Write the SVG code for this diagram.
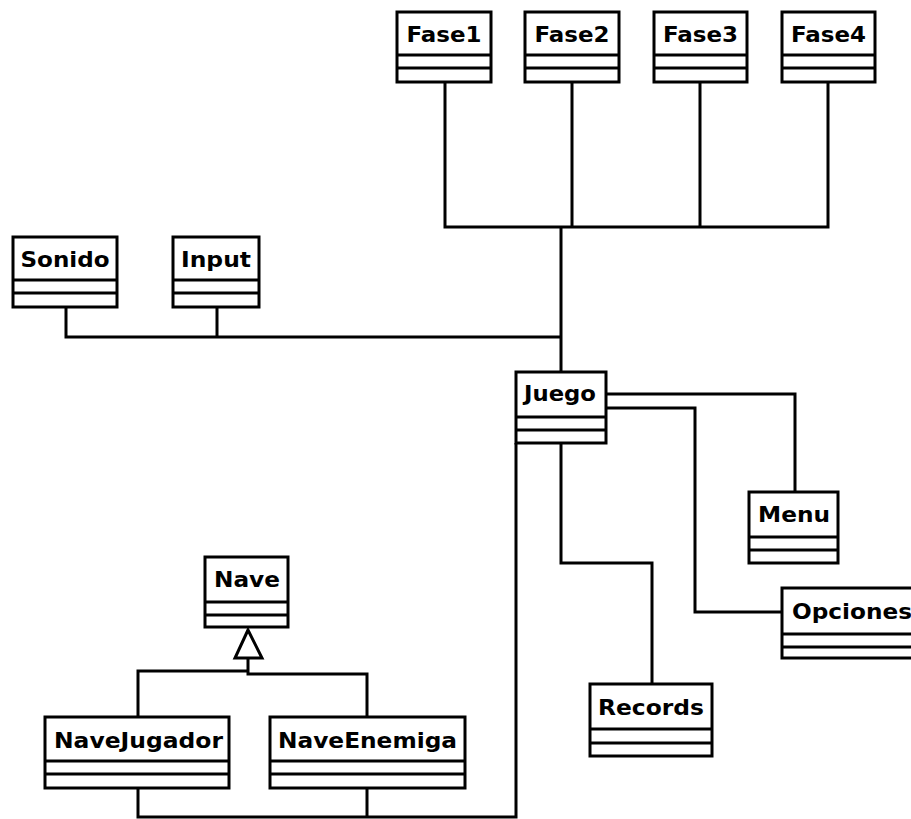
<svg xmlns="http://www.w3.org/2000/svg" width="911" height="819" viewBox="0 0 911 819">
<style>
.box{fill:#fff;stroke:#000;stroke-width:3}
.sep{stroke:#000;stroke-width:3}
.lbl{font-family:"DejaVu Sans","Liberation Sans",sans-serif;font-weight:bold;font-size:21px;fill:#000;text-anchor:middle}
.con{fill:none;stroke:#000;stroke-width:3}
</style>
<rect width="911" height="819" fill="#fff"/>
<g id="connectors">
<path class="con" d="M445,82V227H828V82M572,82V227M700,82V227M561,227V372"/>
<path class="con" d="M66,307V337H561M217,307V337"/>
<path class="con" d="M606,394H795V492"/>
<path class="con" d="M606,408H695V612H782"/>
<path class="con" d="M561,443V563H652V684"/>
<path class="con" d="M516,443V817H138V788M367,788V817"/>
<path class="con" d="M138,717V671H248M367,717V674H248V658"/>
<polygon points="248,630 235,658 262,658" fill="#fff" stroke="#000" stroke-width="3"/>
</g>
<g id="Fase1"><rect class="box" x="397" y="12" width="94" height="70"/><path class="sep" d="M397,55H491M397,68H491"/><text class="lbl" x="444" y="42" textLength="75" lengthAdjust="spacingAndGlyphs">Fase1</text></g>
<g id="Fase2"><rect class="box" x="525" y="12" width="94" height="70"/><path class="sep" d="M525,55H619M525,68H619"/><text class="lbl" x="572" y="42" textLength="75" lengthAdjust="spacingAndGlyphs">Fase2</text></g>
<g id="Fase3"><rect class="box" x="654" y="12" width="93" height="70"/><path class="sep" d="M654,55H747M654,68H747"/><text class="lbl" x="700.5" y="42" textLength="75" lengthAdjust="spacingAndGlyphs">Fase3</text></g>
<g id="Fase4"><rect class="box" x="782" y="12" width="93" height="70"/><path class="sep" d="M782,55H875M782,68H875"/><text class="lbl" x="828.5" y="42" textLength="75" lengthAdjust="spacingAndGlyphs">Fase4</text></g>
<g id="Sonido"><rect class="box" x="13" y="237" width="104" height="70"/><path class="sep" d="M13,280H117M13,293H117"/><text class="lbl" x="65" y="267" textLength="89" lengthAdjust="spacingAndGlyphs">Sonido</text></g>
<g id="Input"><rect class="box" x="173" y="237" width="86" height="70"/><path class="sep" d="M173,280H259M173,293H259"/><text class="lbl" x="216" y="267" textLength="70" lengthAdjust="spacingAndGlyphs">Input</text></g>
<g id="Juego"><rect class="box" x="516" y="372" width="90" height="71"/><path class="sep" d="M516,417H606M516,430H606"/><text class="lbl" x="560" y="401" textLength="72" lengthAdjust="spacingAndGlyphs">Juego</text></g>
<g id="Menu"><rect class="box" x="749" y="492" width="89" height="71"/><path class="sep" d="M749,537H838M749,550H838"/><text class="lbl" x="794" y="522" textLength="72" lengthAdjust="spacingAndGlyphs">Menu</text></g>
<g id="Opciones"><rect class="box" x="782" y="588" width="140" height="70"/><path class="sep" d="M782,634H922M782,647H922"/><text class="lbl" x="852" y="619" textLength="120" lengthAdjust="spacingAndGlyphs">Opciones</text></g>
<g id="Nave"><rect class="box" x="205" y="557" width="83" height="70"/><path class="sep" d="M205,602H288M205,615H288"/><text class="lbl" x="247" y="587" textLength="66" lengthAdjust="spacingAndGlyphs">Nave</text></g>
<g id="Records"><rect class="box" x="590" y="684" width="122" height="72"/><path class="sep" d="M590,729H712M590,743H712"/><text class="lbl" x="651" y="715" textLength="106" lengthAdjust="spacingAndGlyphs">Records</text></g>
<g id="NaveJugador"><rect class="box" x="45" y="717" width="184" height="71"/><path class="sep" d="M45,761H229M45,774H229"/><text class="lbl" x="138.5" y="748" textLength="169" lengthAdjust="spacingAndGlyphs">NaveJugador</text></g>
<g id="NaveEnemiga"><rect class="box" x="270" y="717" width="195" height="71"/><path class="sep" d="M270,761H465M270,774H465"/><text class="lbl" x="367.5" y="748" textLength="179" lengthAdjust="spacingAndGlyphs">NaveEnemiga</text></g>
</svg>
